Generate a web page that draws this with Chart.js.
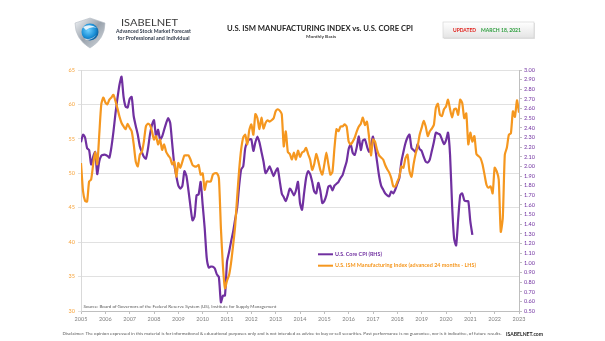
<!DOCTYPE html>
<html>
<head>
<meta charset="utf-8">
<title>U.S. ISM Manufacturing Index vs. U.S. Core CPI</title>
<script src="https://cdn.jsdelivr.net/npm/chart.js@4.4.0/dist/chart.umd.min.js"></script>
<style>
  html, body { margin: 0; padding: 0; background: #fff; }
  #wrap { position: relative; width: 605px; height: 341px; overflow: hidden; }
  #chart { position: absolute; left: 0; top: 0; }
  #overlay { position: absolute; left: 0; top: 0; pointer-events: none; }
  #overlay text { font-family: Lato, "Open Sans", sans-serif; }
</style>
</head>
<body>
<div id="wrap">
  <canvas id="chart" width="605" height="341"></canvas>
  <svg id="overlay" width="605" height="341" xmlns="http://www.w3.org/2000/svg">
    <defs>
      <linearGradient id="silver" x1="0" y1="0" x2="1" y2="1">
        <stop offset="0" stop-color="#f4f6f8"/>
        <stop offset="0.5" stop-color="#9aa3ad"/>
        <stop offset="1" stop-color="#d8dde2"/>
      </linearGradient>
      <radialGradient id="blue" cx="0.4" cy="0.4" r="0.7">
        <stop offset="0" stop-color="#6fd0ff"/>
        <stop offset="0.6" stop-color="#1b8fd6"/>
        <stop offset="1" stop-color="#0b4f8a"/>
      </radialGradient>
      <linearGradient id="badge" x1="0" y1="0" x2="0" y2="1">
        <stop offset="0" stop-color="#ffffff"/>
        <stop offset="1" stop-color="#e4e4e4"/>
      </linearGradient>
    </defs>

    <!-- logo -->
    <path d="M90 18 L105 23 Q105 39 90 48 Q75 39 75 23 Z" fill="url(#silver)" stroke="#b7bec6" stroke-width="0.6"/>
    <circle cx="90" cy="32" r="8.5" fill="url(#blue)"/>
    <path d="M83 27 Q90 23 97 28 Q91 26 86 30 Z" fill="#ffffff" opacity="0.85"/>
    <path d="M84 38 Q90 41 96 35 Q93 40 86 40 Z" fill="#e8eef3" opacity="0.8"/>
    <text x="121" y="25.5" font-size="10" fill="#3a3a3a" textLength="57" lengthAdjust="spacingAndGlyphs">ISABELNET</text>
    <text x="116" y="32.8" font-size="5" font-weight="bold" fill="#2f3a4a" textLength="75" lengthAdjust="spacingAndGlyphs">Advanced Stock Market Forecast</text>
    <text x="117.5" y="40" font-size="5" font-weight="bold" fill="#2f3a4a" textLength="72" lengthAdjust="spacingAndGlyphs">for Professional and Individual</text>

    <!-- title -->
    <text x="227" y="30.5" font-size="7.5" font-weight="bold" fill="#262626" textLength="186" lengthAdjust="spacingAndGlyphs">U.S. ISM MANUFACTURING INDEX vs. U.S. CORE CPI</text>
    <text x="306" y="37.8" font-size="4.2" font-weight="bold" fill="#404040" textLength="30" lengthAdjust="spacingAndGlyphs">Monthly Basis</text>

    <!-- update badge -->
    <rect x="443" y="22" width="91" height="16" fill="#d0d0d0" opacity="0.6" transform="translate(1,1)"/>
    <rect x="443" y="22" width="91" height="16" fill="url(#badge)" stroke="#cfcfcf" stroke-width="0.6"/>
    <text x="453" y="31.8" font-size="5.5" font-weight="bold" fill="#e0201b" textLength="23" lengthAdjust="spacingAndGlyphs">UPDATED</text>
    <text x="481" y="31.8" font-size="5.5" font-weight="bold" fill="#2e9e3e" textLength="40" lengthAdjust="spacingAndGlyphs">MARCH 18, 2021</text>

    <!-- legend -->
    <line x1="318" y1="254.3" x2="333" y2="254.3" stroke="#7030A0" stroke-width="2"/>
    <text x="335" y="256" font-size="5" font-weight="bold" fill="#7030A0" textLength="47" lengthAdjust="spacingAndGlyphs">U.S. Core CPI (RHS)</text>
    <line x1="318" y1="265.7" x2="333" y2="265.7" stroke="#F5971F" stroke-width="2"/>
    <text x="335" y="267.4" font-size="5" font-weight="bold" fill="#F5971F" textLength="141" lengthAdjust="spacingAndGlyphs">U.S. ISM Manufacturing Index (advanced 24 months - LHS)</text>

    <!-- source and disclaimer -->
    <text x="83.5" y="307.5" font-size="4.4" fill="#595959" textLength="193" lengthAdjust="spacingAndGlyphs">Source: Board of Governors of the Federal Reserve System (US), Institute for Supply Management</text>
    <text x="62.5" y="335" font-size="4.2" fill="#595959" textLength="439" lengthAdjust="spacingAndGlyphs">Disclaimer: The opinion expressed in this material is for informational &amp; educational purposes only and is not intended as advice to buy or sell securities. Past performance is no guarantee, nor is it indicative, of future results.</text>
    <text x="506" y="335.5" font-size="5.5" font-weight="bold" fill="#1f1f1f" textLength="37" lengthAdjust="spacingAndGlyphs">ISABELNET.com</text>
  </svg>
</div>
<script>
// year labels on the time axis, one per January
const yearLabels = ['2005', '2006', '2007', '2008', '2009', '2010', '2011', '2012', '2013',
  '2014', '2015', '2016', '2017', '2018', '2019', '2020', '2021', '2022', '2023'];

// U.S. core CPI, % y/y, monthly from Jan 2005 (right axis)
const coreCpi = [
  2.25, 2.33, 2.30, 2.19, 2.17, 2.02, 2.10, 2.15, 1.92, 2.05, 2.11, 2.12,
  2.12, 2.11, 2.09, 2.20, 2.36, 2.55, 2.71, 2.85, 2.93, 2.72, 2.62, 2.61,
  2.70, 2.72, 2.52, 2.42, 2.33, 2.21, 2.15, 2.10, 2.08, 2.18, 2.33, 2.43,
  2.48, 2.31, 2.38, 2.28, 2.31, 2.38, 2.45, 2.50, 2.45, 2.23, 2.02, 1.90,
  1.80, 1.77, 1.80, 1.95, 1.90, 1.75, 1.58, 1.44, 1.48, 1.70, 1.71, 1.84,
  1.60, 1.36, 1.05, 0.95, 0.96, 0.96, 0.94, 0.88, 0.85, 0.59, 0.66, 0.66,
  1.01, 1.11, 1.22, 1.32, 1.45, 1.57, 1.80, 1.97, 2.00, 2.19, 2.25, 2.28,
  2.28, 2.16, 2.25, 2.31, 2.25, 2.15, 2.05, 1.93, 1.96, 2.00, 1.95, 1.90,
  1.95, 1.98, 1.85, 1.72, 1.68, 1.64, 1.70, 1.77, 1.74, 1.70, 1.75, 1.84,
  1.62, 1.55, 1.72, 1.88, 1.95, 1.92, 1.84, 1.74, 1.72, 1.83, 1.75, 1.62,
  1.64, 1.70, 1.79, 1.80, 1.75, 1.80, 1.82, 1.84, 1.88, 1.91, 1.98, 2.05,
  2.18, 2.23, 2.14, 2.12, 2.20, 2.31, 2.17, 2.27, 2.28, 2.21, 2.15, 2.22,
  2.31, 2.20, 2.05, 1.90, 1.80, 1.76, 1.72, 1.70, 1.69, 1.74, 1.72, 1.76,
  1.82, 1.88, 2.05, 2.15, 2.24, 2.30, 2.33, 2.19, 2.17, 2.15, 2.23, 2.18,
  2.16, 2.10, 2.05, 2.04, 2.07, 2.16, 2.25, 2.35, 2.34, 2.33, 2.28, 2.23,
  2.27, 2.35, 2.12, 1.60, 1.25, 1.18, 1.45, 1.70, 1.72, 1.65, 1.64, 1.64,
  1.43, 1.29
];

// ISM manufacturing PMI pushed forward 24 months, monthly from Jan 2005 (left axis)
const ismAdvanced = [
  51.5, 47.4, 46.0, 45.9, 48.8, 49.1, 51.3, 53.1, 51.3, 55.6, 60.0, 61.0,
  60.3, 60.0, 60.7, 61.0, 61.4, 60.5, 59.4, 58.2, 57.3, 56.8, 56.4, 57.2,
  56.6, 56.1, 54.2, 51.7, 51.0, 52.7, 53.1, 54.6, 56.8, 57.2, 57.0, 56.1,
  54.9, 55.4, 54.2, 54.9, 53.4, 54.2, 53.1, 52.6, 52.2, 51.3, 51.7, 49.5,
  51.5, 50.8, 51.7, 52.6, 52.6, 52.6, 52.0, 51.2, 51.0, 51.0, 51.2, 49.8,
  50.0, 47.6, 48.8, 48.8, 48.8, 49.8, 50.0, 50.0, 49.3, 42.0, 36.5, 33.3,
  34.4, 35.2, 37.0, 39.5, 42.3, 46.5, 50.5, 53.5, 55.2, 55.6, 54.2, 56.3,
  57.1, 55.6, 58.6, 58.0, 56.4, 58.1, 56.5, 57.3, 57.7, 57.5, 57.7, 58.0,
  59.0, 59.3, 59.1, 58.6, 53.9, 56.1, 53.1, 52.8, 52.0, 53.0, 52.0, 53.3,
  52.4, 53.0, 53.2, 53.7, 52.8, 52.0, 50.5, 51.3, 52.8, 51.8, 50.5, 49.8,
  51.3, 53.0, 51.3, 49.8, 50.2, 53.7, 56.4, 56.1, 56.8, 56.8, 57.1, 56.8,
  54.6, 54.2, 54.6, 55.2, 56.1, 56.8, 57.2, 58.1, 57.0, 57.5, 55.4, 52.6,
  54.9, 54.6, 53.4, 52.6, 52.3, 52.0, 51.2, 50.6, 50.1, 49.3, 48.1, 48.1,
  48.8, 49.5, 51.0, 50.8, 52.2, 52.7, 50.3, 49.5, 51.3, 52.8, 53.9, 55.6,
  56.6, 57.6, 56.8, 55.4, 56.1, 56.5, 57.0, 59.5, 60.1, 58.5, 58.3, 59.3,
  59.7, 60.7, 59.3, 58.1, 59.3, 59.4, 58.5, 60.7, 60.2, 58.0, 58.7, 54.2,
  55.9, 54.6, 55.4, 52.8, 52.5, 52.2, 51.3, 49.8, 48.3, 47.9, 48.1, 47.1,
  50.8, 50.3, 49.1, 41.5, 43.5, 52.7, 53.7, 55.6, 55.8, 59.0, 58.2, 60.6,
  58.8
];

const PURPLE = '#7030A0';
const ORANGE = '#F5971F';
const GRID = '#D9D9D9';
const tickFont = { family: 'Lato, "Open Sans", sans-serif', size: 5.5 };

// x is the month number counted from Jan 2005
const toPoints = arr => arr.map((v, i) => ({ x: i, y: v }));

new Chart(document.getElementById('chart').getContext('2d'), {
  type: 'line',
  data: {
    datasets: [
      {
        label: 'U.S. ISM Manufacturing Index (advanced 24 months - LHS)',
        data: toPoints(ismAdvanced),
        yAxisID: 'y',
        borderColor: ORANGE,
        borderWidth: 2.2,
        pointRadius: 0,
        tension: 0.2,
        order: 1
      },
      {
        label: 'U.S. Core CPI (RHS)',
        data: toPoints(coreCpi),
        yAxisID: 'y1',
        borderColor: PURPLE,
        borderWidth: 2.2,
        pointRadius: 0,
        tension: 0.2,
        order: 2
      }
    ]
  },
  options: {
    responsive: false,
    animation: false,
    layout: { padding: { left: 56, right: 56, top: 70, bottom: 16 } },
    plugins: {
      legend: { display: false },
      tooltip: { enabled: false }
    },
    scales: {
      x: {
        type: 'linear',
        min: 0,
        max: (yearLabels.length - 1) * 12,
        afterBuildTicks: axis => {
          axis.ticks = yearLabels.map((_, i) => ({ value: i * 12 }));
        },
        afterFit: axis => { axis.height = 14; },
        grid: { drawOnChartArea: false, tickLength: 3, color: '#BFBFBF' },
        border: { color: '#BFBFBF' },
        ticks: {
          autoSkip: false,
          maxRotation: 0,
          padding: 2,
          color: '#7F7F7F',
          font: tickFont,
          callback: v => yearLabels[v / 12]
        }
      },
      y: {
        position: 'left',
        min: 30,
        max: 65,
        afterFit: axis => { axis.width = 25; },
        grid: { color: GRID, lineWidth: 0.8, tickLength: 3 },
        border: { color: GRID },
        ticks: { stepSize: 5, padding: 3, color: '#F7A33A', font: tickFont }
      },
      y1: {
        position: 'right',
        min: 0.5,
        max: 3.0,
        afterFit: axis => { axis.width = 30; },
        grid: { drawOnChartArea: false, tickLength: 3, color: '#BFBFBF' },
        border: { color: '#BFBFBF' },
        ticks: {
          stepSize: 0.1,
          autoSkip: false,
          padding: 2,
          color: PURPLE,
          font: tickFont,
          callback: v => v.toFixed(2)
        }
      }
    }
  }
});
</script>
</body>
</html>
